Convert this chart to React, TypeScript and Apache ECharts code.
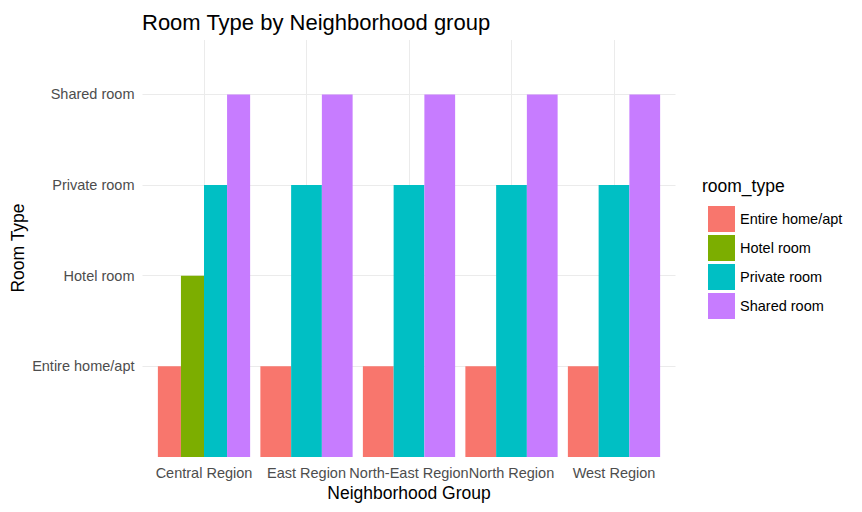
import React, { useEffect, useRef } from "react";
import * as echarts from "echarts";

const regions = ["Central Region", "East Region", "North-East Region", "North Region", "West Region"];
const roomTypes = ["Entire home/apt", "Hotel room", "Private room", "Shared room"];
const colors = ["#F8766D", "#7CAE00", "#00BFC4", "#C77CFF"];
// value of each bar = position of the room type on the discrete y axis (null = absent)
const entireHome = [1, 1, 1, 1, 1];
const hotelRoom = [2, null, null, null, null];
const privateRoom = [3, 3, 3, 3, 3];
const sharedRoom = [4, 4, 4, 4, 4];
const yTicks = [1, 2, 3, 4];
const xTicks = [0, 1, 2, 3, 4];

const FONT = "Liberation Sans, Arial, sans-serif";

export default function App() {
  const ref = useRef<HTMLDivElement>(null);
  useEffect(() => {
    if (!ref.current) return;
    const chart = echarts.init(ref.current, null, { renderer: "svg" });
    const values = [entireHome, hotelRoom, privateRoom, sharedRoom];
    const series = roomTypes.map((name, t) => {
      const data: any[] = [];
      regions.forEach((_, i) => {
        const present = values.map((arr, k) => (arr[i] != null ? k : -1)).filter((k) => k >= 0);
        const v = values[t][i];
        if (v != null) data.push([i, v, present.indexOf(t), present.length]);
      });
      return {
        type: "custom",
        name,
        itemStyle: { color: colors[t] },
        encode: { x: 0, y: 1 },
        data,
        renderItem: (params: any, api: any) => {
          const xi = api.value(0);
          const v = api.value(1);
          const slot = api.value(2);
          const count = api.value(3);
          const p0 = api.coord([xi, 0]);
          const p1 = api.coord([xi, v]);
          const band = api.size([1, 0])[0];
          const gw = band * 0.9;
          const bw = gw / count;
          return {
            type: "rect",
            shape: { x: p0[0] - gw / 2 + slot * bw, y: p1[1], width: bw, height: p0[1] - p1[1] },
            style: { fill: colors[t] },
          };
        },
      };
    });
    chart.setOption({
      animation: false,
      backgroundColor: "#ffffff",
      textStyle: { fontFamily: FONT },
      title: {
        text: "Room Type by Neighborhood group",
        left: 137,
        top: 6,
        textStyle: { fontSize: 22, fontWeight: "normal", color: "#000000", fontFamily: FONT },
      },
      grid: { left: 142.5, right: 186.5, top: 40, bottom: 55 },
      xAxis: {
        type: "value",
        min: -0.6,
        max: 4.6,
        axisLine: { show: false },
        axisTick: { show: false, customValues: xTicks },
        axisLabel: {
          customValues: xTicks,
          formatter: (v: number) => regions[Math.round(v)] ?? "",
          fontSize: 14.5,
          color: "#4D4D4D",
          margin: 8,
          fontFamily: FONT,
        },
        splitLine: { show: true, lineStyle: { color: "#EBEBEB", width: 1 } },
      },
      yAxis: {
        type: "value",
        min: 0,
        max: 4.6,
        axisLine: { show: false },
        axisTick: { show: false, customValues: yTicks },
        axisLabel: {
          customValues: yTicks,
          formatter: (v: number) => roomTypes[Math.round(v) - 1] ?? "",
          fontSize: 14.5,
          color: "#4D4D4D",
          margin: 8,
          fontFamily: FONT,
        },
        splitLine: { show: true, lineStyle: { color: "#EBEBEB", width: 1 } },
      },
      legend: {
        orient: "vertical",
        left: 703,
        top: 201,
        icon: "rect",
        itemWidth: 27,
        itemHeight: 26,
        itemGap: 3,
        data: roomTypes,
        textStyle: { fontSize: 14.5, color: "#000000", fontFamily: FONT },
        selectedMode: false,
      },
      graphic: [
        {
          type: "text",
          left: 702,
          top: 177,
          style: { text: "room_type", fontSize: 17.5, fill: "#000000", fontFamily: FONT },
        },
        {
          type: "text",
          x: 409,
          y: 493,
          style: {
            text: "Neighborhood Group",
            fontSize: 17.5,
            fill: "#000000",
            fontFamily: FONT,
            textAlign: "center",
            textVerticalAlign: "middle",
          },
        },
        {
          type: "text",
          x: 18,
          y: 248,
          rotation: Math.PI / 2,
          style: {
            text: "Room Type",
            fontSize: 17.5,
            fill: "#000000",
            fontFamily: FONT,
            textAlign: "center",
            textVerticalAlign: "middle",
          },
        },
      ],
      series,
    });
    return () => chart.dispose();
  }, []);
  return (
    <div
      ref={ref}
      style={{ position: "fixed", left: 0, top: 0, width: 862, height: 512 }}
    />
  );
}
